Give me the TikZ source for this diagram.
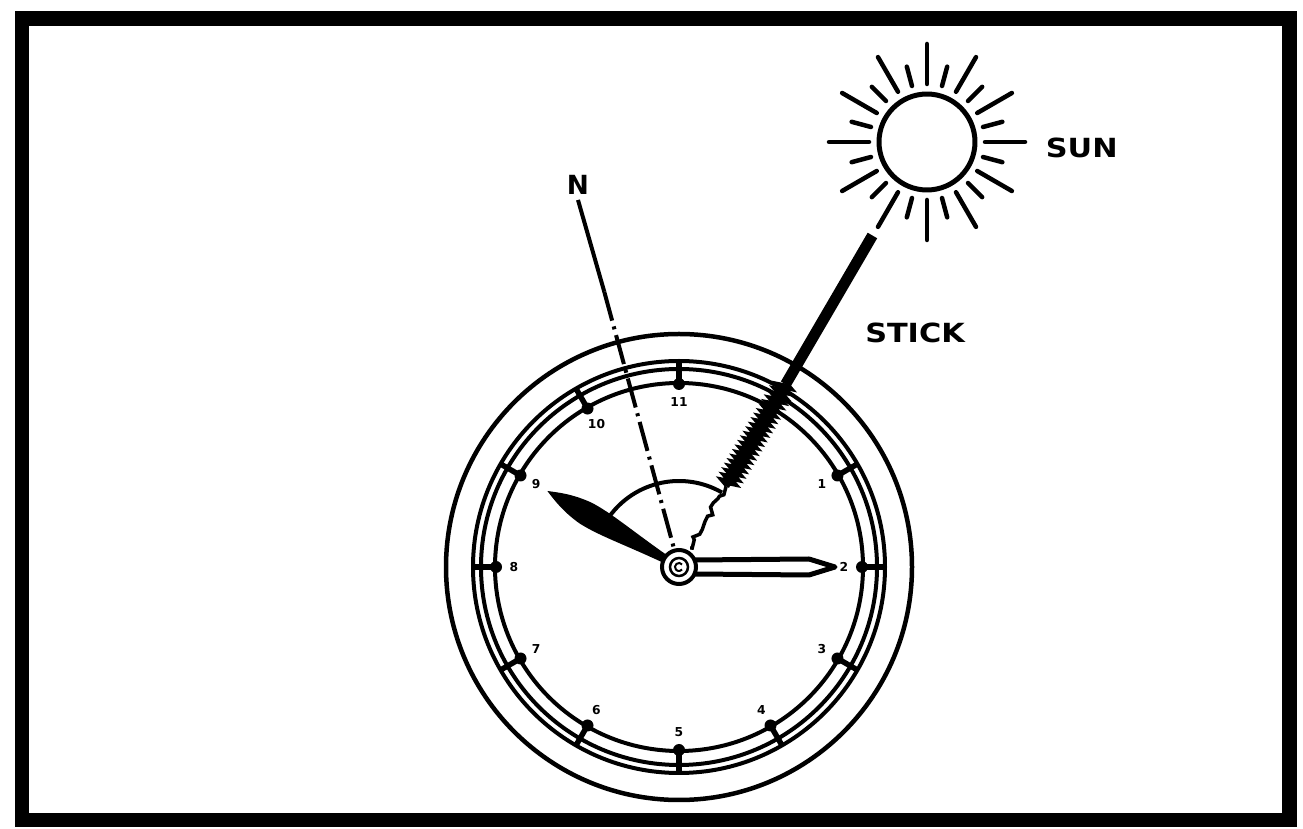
\documentclass[tikz,border=0pt]{standalone}
\usepackage{fontspec}
\setmainfont{DejaVu Sans}
\usetikzlibrary{calc,positioning,decorations.pathmorphing}

\begin{document}
\begin{tikzpicture}[x=0.02cm,y=0.02cm]
	\tikzstyle{ring}=[line width=0.09cm]
	\tikzstyle{ray}=[line width=0.09cm,line cap=round]
	\tikzstyle{lbl}=[font=\bfseries\fontsize{15}{15}\selectfont,inner sep=0pt]
	\tikzstyle{numeral}=[font=\bfseries\fontsize{7}{7}\selectfont,inner sep=0pt]
	\useasboundingbox (0,0) rectangle (1303,829);
	\draw[line width=0.3cm] (22,9) rectangle (1289,810);

	% watch face
	\coordinate (clock) at (679,262);
	\draw[ring] (clock) circle (233);
	\draw[line width=0.08cm] (clock) circle (206) (clock) circle (198);
	\draw[line width=0.08cm] (clock) circle (184);
	\foreach \a in {0,30,...,330}{
		\draw[line width=0.11cm] ($(clock)+(\a:180)$) -- ($(clock)+(\a:207)$);
		\fill ($(clock)+(\a:183)$) circle (6);
	}
	\foreach \h in {1,...,11}
		\node[numeral] at ($(clock)+({60+30*(12-\h)}:165)$) {\h};

	% hands
	\begin{scope}[shift={(clock)},rotate=150]
		\fill (14,-4) .. controls (60,-8) and (85,-13) .. (108,-12) .. controls (128,-10) and (140,-5) .. (152,0) .. controls (140,5) and (128,10) .. (108,12) .. controls (85,13) and (60,8) .. (14,4) -- cycle;
	\end{scope}
	\begin{scope}[shift={(clock)}]
		\filldraw[fill=white,line width=0.1cm,line join=round] (15,-7) -- (130,-8) -- (156,0) -- (130,8) -- (15,7);
	\end{scope}

	% north line
	\node[lbl] (north) at (578,644) {N};
	\coordinate (nsolid) at ($(north.south)!0.26!(clock)$);
	\draw[line width=0.08cm] ([yshift=-0.1cm]north.south) -- (nsolid);
	\draw[line width=0.08cm,dash pattern=on 0.6cm off 0.12cm on 0.06cm off 0.12cm] (nsolid) -- (clock);

	% sun
	\node[circle,draw,line width=0.1cm,minimum size=1.92cm,inner sep=0pt] (sun) at (927,687) {};
	\foreach \a in {0,30,...,330}
		\draw[ray] ($(sun)+(\a:58)$) -- ($(sun)+(\a:98)$);
	\foreach \a in {15,45,...,345}
		\draw[ray] ($(sun)+(\a:58)$) -- ($(sun)+(\a:78)$);
	\node[lbl,right=1.36cm of sun,yshift=-0.12cm] (sunlabel) {\scalebox{1.15}[1]{SUN}};

	% stick and its shadow
	\coordinate (stop) at ($(clock)!0.78!(sun)$);
	\coordinate (sbot) at ($(clock)!0.43!(sun)$);
	\coordinate (shmid) at ($(clock)!0.19!(sun)$);
	\coordinate (shend) at ($(clock)!0.045!(sun)$);
	\draw[line width=0.22cm] (stop) -- (sbot);
	\draw[line width=0.13cm,decorate,decoration={zigzag,segment length=3pt,amplitude=2.2pt}] (sbot) -- (shmid);
	\draw[line width=0.07cm,decorate,decoration={random steps,segment length=3pt,amplitude=1.8pt}] (shmid) -- (shend);
	\node[lbl] (sticklabel) at (915,496) {\scalebox{1.15}[1]{STICK}};

	% angle between hour hand and shadow
	\draw[line width=0.08cm] ($(clock)+(60:86)$) arc[start angle=60,end angle=144,radius=86];

	\node[circle,draw,line width=0.08cm,fill=white,minimum size=0.68cm,inner sep=0pt] (pivot) at (clock) {};
	\draw[line width=0.05cm] (clock) circle (9);
	\draw[line width=0.04cm] ($(clock)+(40:4)$) arc[start angle=40,end angle=320,radius=4];
\end{tikzpicture}
\end{document}
